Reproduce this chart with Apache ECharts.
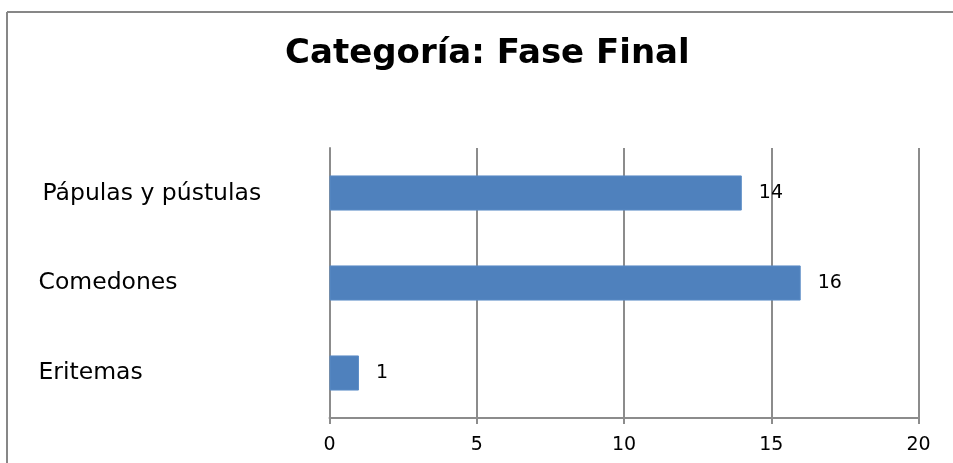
<!DOCTYPE html>
<html>
<head>
<meta charset="utf-8">
<script src="https://cdn.jsdelivr.net/npm/echarts@6/dist/echarts.min.js"></script>
<style>
  html, body { margin: 0; padding: 0; background: #fff; }
  #chart { width: 953px; height: 463px; }
</style>
</head>
<body>
<div id="chart"></div>
<script>
// Category names, bottom-to-top order on the vertical axis
const categories = ['Eritemas', 'Comedones', 'Pápulas y pústulas'];
// Counts for each category
const counts = [1, 16, 14];
// Horizontal value axis range and step
const axisMin = 0;
const axisMax = 20;
const axisStep = 5;

const FONT = '"DejaVu Sans", sans-serif';
const GRID_GREY = '#8c8c8c';

const chart = echarts.init(document.getElementById('chart'), null, { renderer: 'canvas' });

chart.setOption({
  backgroundColor: '#ffffff',
  animation: false,
  title: {
    text: 'Categoría: Fase Final',
    left: 285,
    top: 37,
    padding: 0,
    textStyle: { fontFamily: FONT, fontWeight: 'bold', fontSize: 34, color: '#000' }
  },
  graphic: [
    // chart frame: top and left edges
    { type: 'line', shape: { x1: 7, y1: 12, x2: 953, y2: 12 }, style: { stroke: '#878787', lineWidth: 2 } },
    { type: 'line', shape: { x1: 7, y1: 12, x2: 7, y2: 463 }, style: { stroke: '#878787', lineWidth: 2 } }
  ],
  grid: { left: 329.5, right: 34.5, top: 148, bottom: 45, containLabel: false },
  xAxis: {
    type: 'value',
    min: axisMin,
    max: axisMax,
    interval: axisStep,
    axisLine: { show: true, lineStyle: { color: GRID_GREY, width: 2 } },
    axisTick: { show: true, length: 6, lineStyle: { color: GRID_GREY, width: 2 } },
    splitLine: { show: true, lineStyle: { color: GRID_GREY, width: 2 } },
    axisLabel: { fontFamily: FONT, fontSize: 19, color: '#000', margin: 18 }
  },
  yAxis: {
    type: 'category',
    data: categories,
    axisLine: { show: true, lineStyle: { color: GRID_GREY, width: 2 } },
    axisTick: { show: false },
    axisLabel: {
      fontFamily: FONT,
      fontSize: 23.5,
      color: '#000',
      align: 'left',
      margin: 291,
      formatter: function (v) {
        return v === 'Pápulas y pústulas' ? '{p|' + v + '}' : v;
      },
      rich: { p: { fontFamily: FONT, fontSize: 23.5, color: '#000', padding: [2, 0, 0, 4] } }
    }
  },
  series: [{
    type: 'bar',
    data: counts,
    barWidth: '39%',
    itemStyle: { color: '#4f81bd', borderColor: '#5b8cc6', borderWidth: 1 },
    label: {
      show: true,
      position: 'right',
      distance: 17,
      fontFamily: FONT,
      fontSize: 19,
      color: '#000'
    }
  }]
});
</script>
</body>
</html>
